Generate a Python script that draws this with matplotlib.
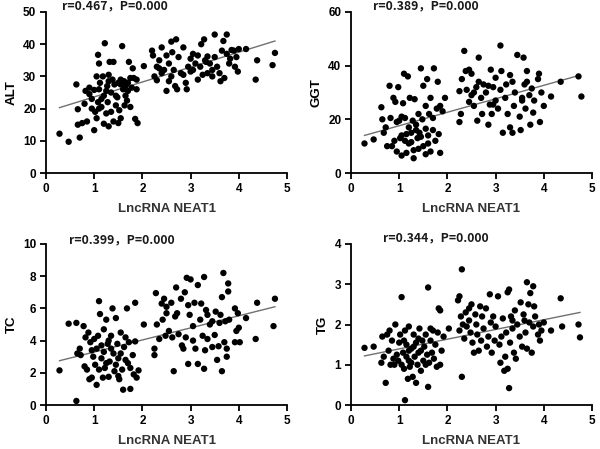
import numpy as np
from matplotlib import pyplot as plt

plt.rcParams['font.family'] = ['Liberation Sans', 'DejaVu Sans']
plt.rcParams['font.weight'] = 'bold'

# ALT vs NEAT1
alt_x = [0.28, 0.47, 0.63, 0.66, 0.66, 0.7, 0.75, 0.8, 0.82, 0.85, 0.9, 0.9, 0.95, 1.0, 1.0, 1.02, 1.05,
         1.08, 1.08, 1.1, 1.1, 1.12, 1.15, 1.18, 1.2, 1.2, 1.22, 1.25, 1.27, 1.28, 1.3, 1.3, 1.32, 1.35,
         1.38, 1.4, 1.4, 1.42, 1.45, 1.48, 1.5, 1.52, 1.55, 1.55, 1.58, 1.6, 1.62, 1.63, 1.65, 1.68, 1.7,
         1.72, 1.75, 1.75, 1.78, 1.8, 1.82, 1.85, 1.88, 1.9, 1.88, 1.1, 1.15, 1.25, 1.35, 1.45, 1.65, 1.05,
         1.5, 0.95, 1.3, 1.55, 1.7,
         2.03, 2.2, 2.22, 2.25, 2.3, 2.3, 2.35, 2.4, 2.4, 2.45, 2.5, 2.5, 2.55, 2.6, 2.6, 2.62, 2.65, 2.68,
         2.7, 2.72, 2.75, 2.8, 2.85, 2.85, 2.9, 2.92, 2.95, 3.0, 3.0, 3.05, 3.1, 3.15, 3.15, 3.2, 3.22, 3.25,
         3.28, 3.3, 3.32, 3.35, 3.4, 3.45, 3.5, 3.5, 3.55, 3.6, 3.62, 3.65, 3.68, 3.7, 3.75, 3.75, 3.8, 3.82,
         3.9, 3.92, 3.98, 4.0, 4.15, 4.35, 4.38, 4.7, 4.75, 3.85, 3.05, 2.35, 2.55, 3.35, 3.95, 3.45]
alt_y = [12.2, 9.7, 27.5, 19.8, 15, 11, 15.5, 21.5, 25.5, 16, 26.5, 24.5, 23, 13.3, 25.8, 19, 17,
         22, 36.7, 34, 26, 28, 20.5, 30, 24, 15.3, 40.3, 18.5, 27, 22, 14.5, 30.5, 34.5, 25,
         29, 16, 34.5, 27.5, 21, 23.5, 28, 19.5, 17, 29, 39.4, 26, 28.5, 21, 24, 22.5, 28,
         34.5, 20.5, 29.5, 26.5, 32.5, 29.5, 16.8, 26, 15.5, 29, 20, 23, 25.5, 19, 24, 27, 30,
         15.5, 20, 28.5, 27.5, 25.5,
         33.2, 38, 36.5, 30, 33, 28.8, 35, 39, 31, 32, 36.5, 25.5, 34, 40.8, 30, 37.5, 32, 27,
         41.5, 26, 36, 31, 39, 30.5, 28, 26, 33, 35.5, 31.5, 37, 34, 29, 36.5, 33, 40, 30.5,
         41.5, 35, 34.5, 31, 34, 32, 43, 36, 33, 31, 28.5, 38, 41, 29.5, 43, 37, 34, 35.5,
         38, 33, 31.5, 38.5, 38.5, 29, 35, 33.5, 37.3, 38.2, 32, 32.5, 28.5, 36.2, 36, 30]

# GGT vs NEAT1
ggt_x = [0.28, 0.47, 0.63, 0.65, 0.68, 0.72, 0.75, 0.8, 0.82, 0.85, 0.88, 0.9, 0.92, 0.95, 0.98, 1.0,
         1.02, 1.05, 1.05, 1.08, 1.1, 1.12, 1.12, 1.15, 1.18, 1.2, 1.2, 1.22, 1.25, 1.28, 1.3, 1.3, 1.32,
         1.35, 1.38, 1.4, 1.42, 1.45, 1.48, 1.5, 1.5, 1.55, 1.55, 1.58, 1.6, 1.62, 1.65, 1.65, 1.7, 1.72,
         1.75, 1.78, 1.8, 1.82, 1.85, 1.85, 1.9, 1.95, 1.15, 1.25, 1.35, 1.45, 1.55, 1.05, 0.95, 1.7, 1.4, 1.6,
         2.25, 2.25, 2.28, 2.3, 2.35, 2.38, 2.4, 2.45, 2.5, 2.5, 2.55, 2.6, 2.62, 2.65, 2.65, 2.7, 2.72,
         2.75, 2.8, 2.85, 2.88, 2.9, 2.92, 2.95, 3.0, 3.0, 3.05, 3.1, 3.1, 3.12, 3.15, 3.2, 3.22, 3.25,
         3.3, 3.3, 3.35, 3.38, 3.4, 3.45, 3.5, 3.52, 3.55, 3.58, 3.6, 3.62, 3.65, 3.7, 3.72, 3.75, 3.78,
         3.8, 3.88, 3.9, 3.92, 3.95, 4.0, 4.15, 4.35, 4.72, 4.78, 2.45, 2.55, 2.85, 3.35, 3.65, 2.95, 3.55]
ggt_y = [11, 12.5, 24.5, 20, 15, 17, 10, 32.5, 20.5, 10, 28, 12, 26.5, 8, 32, 19.5,
         13, 14, 6.5, 26, 37, 20.5, 12, 7.5, 36, 17, 11, 28, 15, 19.5, 5.5, 8.5, 27.5,
         18, 13, 9, 15, 39, 20, 10, 32.5, 25, 7, 35, 14, 22, 28, 8, 16, 39,
         12, 24, 34, 14.5, 7.5, 25, 23, 28, 14.5, 11.5, 16, 13.5, 16.5, 21, 19, 20.5, 22, 11,
         30.5, 19, 22, 35, 45.5, 38, 31, 26.5, 37, 29, 25, 32, 19.5, 43, 34, 28, 22,
         33, 30, 18, 25.5, 38.5, 22, 32, 27, 35.5, 24, 47.5, 31, 38, 15, 28, 33, 22,
         36.5, 17, 15, 25, 30, 44, 21, 16, 28, 43, 33, 24, 38, 29, 18, 31.5, 22.5,
         27, 35, 37, 19, 30, 25, 28.5, 34, 36, 28.5, 38.5, 30, 32.5, 34, 34, 25.5, 27]

# TC vs NEAT1
tc_x = [0.28, 0.47, 0.63, 0.63, 0.65, 0.7, 0.72, 0.78, 0.8, 0.82, 0.85, 0.88, 0.9, 0.92, 0.95, 0.98,
        1.0, 1.02, 1.05, 1.05, 1.08, 1.1, 1.12, 1.15, 1.18, 1.2, 1.2, 1.22, 1.25, 1.28, 1.3, 1.32, 1.35,
        1.38, 1.4, 1.42, 1.45, 1.48, 1.5, 1.52, 1.55, 1.58, 1.6, 1.62, 1.65, 1.68, 1.7, 1.72, 1.75, 1.75,
        1.8, 1.82, 1.85, 1.85, 1.88, 1.92, 1.15, 1.25, 1.35, 1.45, 1.1, 1.55, 1.65, 0.95, 1.3, 1.5,
        2.03, 2.25, 2.25, 2.28, 2.3, 2.35, 2.4, 2.42, 2.45, 2.48, 2.5, 2.5, 2.55, 2.6, 2.62, 2.65, 2.68,
        2.7, 2.72, 2.75, 2.8, 2.82, 2.85, 2.88, 2.9, 2.92, 2.95, 2.95, 2.98, 3.0, 3.05, 3.08, 3.1, 3.15,
        3.15, 3.2, 3.22, 3.25, 3.28, 3.28, 3.3, 3.32, 3.35, 3.4, 3.45, 3.5, 3.52, 3.55, 3.58, 3.6, 3.62,
        3.65, 3.65, 3.68, 3.7, 3.72, 3.75, 3.75, 3.78, 3.78, 3.8, 3.92, 3.92, 3.95, 3.98, 4.0, 4.02, 4.15,
        4.35, 4.38, 4.72, 4.75, 3.35, 3.45, 3.05]
tc_y = [2.15, 5.05, 5.1, 0.25, 3.2, 3.5, 3.1, 4.9, 2.4, 4.2, 2.2, 4.5, 1.6, 3.9, 1.7, 3.0,
        4.1, 2.5, 1.25, 3.5, 4.3, 6.45, 5.65, 2.9, 1.7, 4.7, 3.3, 2.3, 5.3, 3.8, 1.75, 2.7, 4.3,
        6.0, 3.2, 2.1, 5.4, 3.8, 2.9, 1.6, 4.5, 2.2, 0.95, 3.6, 4.2, 6.0, 2.6, 3.9, 1.0, 2.3,
        3.1, 1.9, 6.35, 3.95, 1.7, 2.15, 3.7, 2.6, 3.5, 2.5, 2.2, 3.2, 2.8, 3.4, 4.0, 1.8,
        5.0, 3.1, 3.5, 6.95, 5.0, 4.1, 6.3, 5.3, 6.6, 4.3, 6.1, 5.7, 4.6, 6.35, 4.2, 2.1, 5.5,
        7.3, 5.7, 4.4, 6.6, 3.7, 3.5, 7.0, 4.2, 7.9, 6.2, 2.55, 5.6, 7.8, 4.9, 6.35, 3.5, 7.45,
        2.55, 5.3, 6.3, 4.3, 7.95, 2.25, 3.4, 5.9, 4.1, 5.0, 3.6, 4.35, 5.8, 2.8, 3.65, 5.1, 5.6,
        6.7, 2.1, 8.2, 3.9, 5.2, 3.0, 3.5, 7.55, 7.05, 5.3, 6.0, 3.9, 4.6, 5.7, 4.8, 3.9, 5.4,
        4.1, 6.35, 4.9, 6.6, 5.6, 5.2, 4.0]

# TG vs NEAT1
tg_x = [0.28, 0.47, 0.63, 0.65, 0.68, 0.72, 0.75, 0.78, 0.8, 0.82, 0.85, 0.88, 0.92, 0.95, 0.98, 1.0,
        1.02, 1.05, 1.05, 1.08, 1.1, 1.12, 1.12, 1.15, 1.18, 1.2, 1.2, 1.22, 1.25, 1.28, 1.3, 1.32, 1.35,
        1.35, 1.38, 1.4, 1.42, 1.45, 1.48, 1.5, 1.52, 1.55, 1.58, 1.6, 1.6, 1.62, 1.65, 1.68, 1.7, 1.72,
        1.75, 1.78, 1.8, 1.82, 1.85, 1.85, 1.88, 1.92, 1.15, 1.25, 1.3, 1.45, 1.55, 1.4, 1.1, 0.9, 1.65, 1.2,
        2.03, 2.22, 2.25, 2.25, 2.28, 2.3, 2.3, 2.32, 2.35, 2.38, 2.4, 2.45, 2.48, 2.5, 2.52, 2.55, 2.58,
        2.6, 2.62, 2.65, 2.68, 2.7, 2.72, 2.75, 2.8, 2.82, 2.85, 2.88, 2.9, 2.92, 2.95, 2.98, 3.0, 3.05,
        3.08, 3.1, 3.12, 3.15, 3.18, 3.2, 3.22, 3.25, 3.25, 3.28, 3.28, 3.3, 3.32, 3.35, 3.38, 3.4, 3.42,
        3.45, 3.5, 3.52, 3.55, 3.58, 3.62, 3.65, 3.65, 3.68, 3.7, 3.72, 3.75, 3.78, 3.78, 3.8, 3.82, 3.88,
        3.9, 3.92, 3.95, 4.0, 4.15, 4.35, 4.38, 4.72, 4.75, 3.35, 3.6, 2.45]
tg_y = [1.42, 1.45, 1.05, 1.7, 1.2, 0.55, 1.75, 1.35, 1.85, 1.0, 1.6, 1.15, 2.0, 1.25, 1.1, 1.55,
        1.75, 1.0, 2.68, 1.3, 0.9, 0.12, 1.85, 1.5, 0.65, 1.1, 1.95, 0.95, 1.4, 0.7, 1.75, 1.2, 0.55,
        1.55, 1.0, 1.3, 1.9, 0.85, 1.6, 1.1, 1.45, 1.75, 1.25, 2.92, 0.45, 1.05, 1.6, 1.3, 1.85, 1.15,
        1.5, 0.95, 1.8, 2.4, 2.35, 1.0, 1.35, 1.7, 1.2, 1.05, 1.45, 1.35, 1.0, 1.65, 1.6, 1.0, 1.9, 1.35,
        1.9, 2.6, 1.85, 2.7, 2.2, 3.37, 0.7, 2.0, 1.65, 2.3, 1.95, 2.4, 1.8, 2.5, 1.55, 1.3, 2.25,
        2.0, 1.75, 1.35, 2.45, 1.6, 2.2, 1.9, 2.4, 1.45, 1.7, 2.75, 2.05, 1.3, 2.2, 1.6, 1.95, 2.7,
        1.5, 1.05, 1.7, 2.15, 0.85, 1.2, 1.8, 2.8, 0.9, 2.87, 0.42, 1.55, 2.2, 1.9, 1.3, 2.35, 1.15,
        2.0, 1.7, 2.55, 1.45, 2.25, 1.8, 3.05, 1.4, 2.5, 2.05, 2.78, 1.3, 2.95, 1.95, 2.45, 2.2, 1.75,
        2.0, 1.6, 1.85, 2.05, 1.85, 2.65, 1.95, 2.0, 1.68, 2.1, 2.1, 2.1]

# fitted lines (slope, intercept)
fits = [(4.63, 19.0), (5.02, 12.6), (0.75, 2.54), (0.2416, 1.152)]
fit_range = (0.28, 4.75)
stats = ['r=0.467，P=0.000', 'r=0.389，P=0.000', 'r=0.399，P=0.000', 'r=0.344，P=0.000']
ylabels = ['ALT', 'GGT', 'TC', 'TG']
ylims = [50, 60, 10, 4]
ysteps = [10, 20, 2, 1]
data = [(alt_x, alt_y), (ggt_x, ggt_y), (tc_x, tc_y), (tg_x, tg_y)]

fig = plt.figure(figsize=(6, 4.49), dpi=100)
W, H = 600, 449
boxes = [(46, 12, 287, 173), (351, 12, 592, 173), (46, 244, 287, 405), (351, 244, 592, 405)]
text_off = [(0.33, 1.037), (0.46, 1.037), (0.48, 1.025), (0.66, 1.037)]

for i, (l, t, r, b) in enumerate(boxes):
    ax = fig.add_axes([l / W, 1 - b / H, (r - l) / W, (b - t) / H])
    x, y = data[i]
    ax.scatter(x, y, s=21, color='black', edgecolors='none', zorder=3)
    k, c = fits[i]
    lx = np.array(fit_range)
    ax.plot(lx, k * lx + c, color='#707070', lw=1.0, zorder=2)
    ax.set_xlim(0, 5)
    ax.set_ylim(0, ylims[i])
    ax.set_xticks(range(0, 6))
    ax.set_yticks(np.arange(0, ylims[i] + 0.01, ysteps[i]))
    for s in ['top', 'right']:
        ax.spines[s].set_visible(False)
    for s in ['left', 'bottom']:
        ax.spines[s].set_linewidth(1.3)
    ax.tick_params(width=1.3, length=4, labelsize=8.5, pad=3)
    for lab in ax.get_xticklabels() + ax.get_yticklabels():
        lab.set_fontweight('bold')
    ax.set_xlabel('LncRNA NEAT1', fontsize=9.5, fontweight='bold', color='#333333', labelpad=6)
    ax.set_ylabel(ylabels[i], fontsize=9.5, fontweight='bold', labelpad=4)
    tx, ty = text_off[i]
    ax.text(tx / 5, ty, stats[i], transform=ax.transAxes, fontsize=8.8, fontweight='bold',
            va='center', ha='left', color='#1a1a1a',
            family=['Noto Sans CJK SC', 'DejaVu Sans'], clip_on=False)

fig.savefig('out.png', dpi=100)
